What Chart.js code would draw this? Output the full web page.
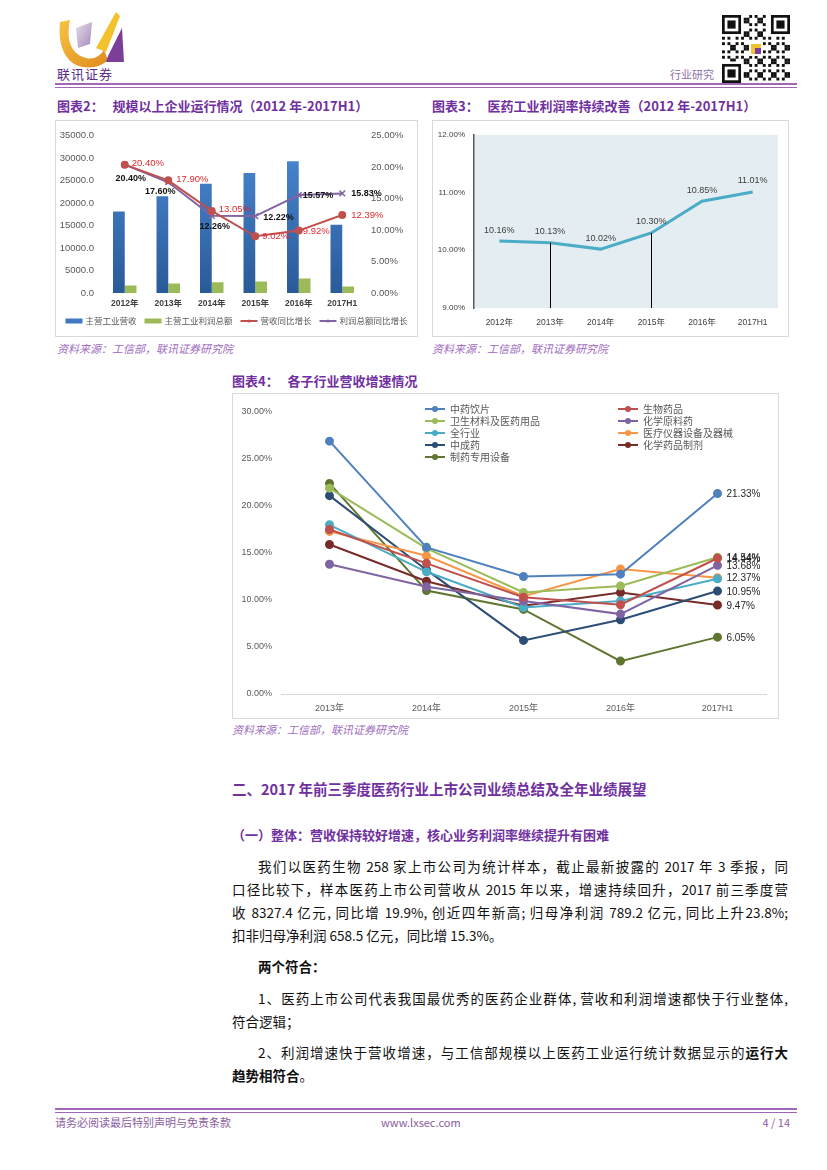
<!DOCTYPE html>
<html>
<head>
<meta charset="utf-8">
<script src="https://cdn.jsdelivr.net/npm/chart.js@4.4.1/dist/chart.umd.min.js"></script>
<style>
  html,body{margin:0;padding:0;background:#fff;}
  body{width:827px;height:1170px;position:relative;overflow:hidden;font-family:"Noto Sans CJK SC","Liberation Sans",sans-serif;}
  .abs{position:absolute;white-space:nowrap;}
  .title{color:#7030A0;font-weight:bold;font-size:13px;line-height:16px;}
  .src{color:#A06CC0;font-style:italic;font-size:11px;line-height:14px;}
  .box{position:absolute;border:1px solid #D9D9D9;box-sizing:border-box;}
  .box canvas{position:absolute;left:0;top:0;}
  .para{position:absolute;font-size:13.5px;line-height:20px;color:#111;white-space:nowrap;}
  .just{text-align:justify;text-align-last:justify;white-space:normal;height:20px;overflow:visible;}
  .h1{color:#7030A0;font-weight:bold;font-size:14.5px;line-height:20px;}
  .h2{color:#7030A0;font-weight:bold;font-size:13px;line-height:18px;}
  .foot{color:#8B5DA0;font-size:11px;line-height:14px;font-family:"Liberation Sans Narrow","Noto Sans CJK SC",sans-serif;}
</style>
</head>
<body>
<script>
// ---------------- DATA ----------------
const c2Years = ['2012年','2013年','2014年','2015年','2016年','2017H1'];
const c2Revenue = [18160, 21500, 24330, 26720, 29340, 15180];
const c2Profit = [1680, 2110, 2400, 2550, 3200, 1460];
const c2RevGrowth = [20.40, 17.90, 13.05, 9.02, 9.92, 12.39];
const c2ProfitGrowth = [20.40, 17.60, 12.26, 12.22, 15.57, 15.83];
const c2SeriesNames = ['主营工业营收','主营工业利润总额','营收同比增长','利润总额同比增长'];

const c3Years = ['2012年','2013年','2014年','2015年','2016年','2017H1'];
const c3Margin = [10.16, 10.13, 10.02, 10.30, 10.85, 11.01];

const c4Periods = ['2013年','2014年','2015年','2016年','2017H1'];
const c4Names = ['中药饮片','生物药品','卫生材料及医药用品','化学原料药','全行业','医疗仪器设备及器械','中成药','化学药品制剂','制药专用设备'];
const c4TcmPieces   = [26.9, 15.6, 12.5, 12.75, 21.33];
const c4Bio         = [17.5, 13.9, 10.3, 9.5, 14.44];
const c4Sanitary    = [21.9, 15.5, 10.8, 11.5, 14.54];
const c4Api         = [13.8, 11.4, 9.9, 8.5, 13.68];
const c4All         = [18.0, 13.0, 9.2, 9.9, 12.25];
const c4Devices     = [17.3, 14.7, 10.4, 13.3, 12.37];
const c4TcmPatent   = [21.1, 13.2, 5.7, 7.9, 10.95];
const c4Formulation = [15.9, 12.0, 9.4, 10.8, 9.47];
const c4Equipment   = [22.4, 11.0, 9.0, 3.5, 6.05];
</script>

<!-- Header -->
<svg class="abs" style="left:56px;top:8px" width="72" height="62" viewBox="0 0 72 62">
  <defs>
    <linearGradient id="gy" x1="0" y1="0" x2="1" y2="1">
      <stop offset="0" stop-color="#F6C343"/><stop offset="1" stop-color="#E08A1E"/>
    </linearGradient>
    <linearGradient id="gp" x1="0" y1="0" x2="1" y2="1">
      <stop offset="0" stop-color="#E6DCEB"/><stop offset="1" stop-color="#A58BB8"/>
    </linearGradient>
  </defs>
  <path d="M4 14 L14 12 C10 30 14 46 30 50 C38 52 44 48 48 42 L52 52 C44 60 30 62 18 56 C6 48 2 32 4 14 Z" fill="url(#gy)"/>
  <path d="M20 20 L36 14 L34 36 L22 40 Z" fill="url(#gp)"/>
  <path d="M40 40 L60 4 L64 8 L50 44 Z" fill="#F3C12C"/>
  <path d="M52 48 L66 20 L68 54 L50 54 Z" fill="#7B3F99"/>
</svg>
<div class="abs" style="left:57px;top:66px;font-size:13px;line-height:16px;color:#5A2D86;letter-spacing:1px;">联讯证券</div>
<div class="abs" style="left:670px;top:67px;font-size:11px;line-height:14px;color:#8E6FA6;">行业研究</div>
<svg id="qr" class="abs" style="left:722px;top:15px" width="68" height="68"></svg>
<div class="abs" style="left:55px;top:83px;width:742px;height:2px;background:#A266B8;"></div>
<div class="abs" style="left:55px;top:87px;width:742px;height:1px;background:#A266B8;"></div>

<!-- Chart 2 -->
<div class="abs title" style="left:57px;top:98px;">图表2：&nbsp;&nbsp;&nbsp;规模以上企业运行情况（2012 年-2017H1）</div>
<div class="box" style="left:55px;top:120px;width:363px;height:217px;"><canvas id="c2" width="361" height="215" style="width:361px;height:215px"></canvas></div>
<div class="abs src" style="left:57px;top:341px;">资料来源：工信部，联讯证券研究院</div>

<!-- Chart 3 -->
<div class="abs title" style="left:432px;top:98px;">图表3：&nbsp;&nbsp;&nbsp;医药工业利润率持续改善（2012 年-2017H1）</div>
<div class="box" style="left:432px;top:120px;width:357px;height:217px;"><canvas id="c3" width="355" height="215" style="width:355px;height:215px"></canvas></div>
<div class="abs src" style="left:432px;top:341px;">资料来源：工信部，联讯证券研究院</div>

<!-- Chart 4 -->
<div class="abs title" style="left:232px;top:373px;">图表4：&nbsp;&nbsp;&nbsp;各子行业营收增速情况</div>
<div class="box" style="left:232px;top:393px;width:547px;height:326px;"><canvas id="c4" width="545" height="324" style="width:545px;height:324px"></canvas></div>
<div class="abs src" style="left:232px;top:722px;">资料来源：工信部，联讯证券研究院</div>

<!-- Text -->
<div class="abs h1" style="left:232px;top:779px;">二、2017 年前三季度医药行业上市公司业绩总结及全年业绩展望</div>
<div class="abs h2" style="left:232px;top:826px;">（一）整体：营收保持较好增速，核心业务利润率继续提升有困难</div>
<div class="para just" style="left:258px;top:856px;width:530px;">我们以医药生物 258 家上市公司为统计样本，截止最新披露的 2017 年 3 季报，同</div>
<div class="para just" style="left:232px;top:879px;width:556px;">口径比较下，样本医药上市公司营收从 2015 年以来，增速持续回升，2017 前三季度营</div>
<div class="para just" style="left:232px;top:902px;width:556px;">收 8327.4 亿元, 同比增 19.9%, 创近四年新高; 归母净利润 789.2 亿元, 同比上升23.8%;</div>
<div class="para" style="left:232px;top:925px;">扣非归母净利润 658.5 亿元，同比增 15.3%。</div>
<div class="para" style="left:258px;top:956px;font-weight:bold;">两个符合：</div>
<div class="para just" style="left:258px;top:988px;width:530px;">1、医药上市公司代表我国最优秀的医药企业群体, 营收和利润增速都快于行业整体,</div>
<div class="para" style="left:232px;top:1011px;">符合逻辑；</div>
<div class="para just" style="left:258px;top:1042px;width:530px;">2、利润增速快于营收增速，与工信部规模以上医药工业运行统计数据显示的<b>运行大</b></div>
<div class="para" style="left:232px;top:1065px;"><b>趋势相符合</b>。</div>

<!-- Footer -->
<div class="abs" style="left:55px;top:1108px;width:742px;height:2px;background:#A266B8;"></div>
<div class="abs" style="left:55px;top:1112px;width:742px;height:1px;background:#A266B8;"></div>
<div class="abs foot" style="left:55px;top:1115px;">请务必阅读最后特别声明与免责条款</div>
<div class="abs foot" style="left:381px;top:1115px;">www.lxsec.com</div>
<div class="abs foot" style="right:37px;top:1115px;">4 / 14</div>

<script>
// QR-like decoration
(function(){
  const svg=document.getElementById('qr');const n=25,s=68/n;let h='';
  function finder(x,y){h+=`<rect x="${x*s}" y="${y*s}" width="${7*s}" height="${7*s}" fill="#111"/><rect x="${(x+1)*s}" y="${(y+1)*s}" width="${5*s}" height="${5*s}" fill="#fff"/><rect x="${(x+2)*s}" y="${(y+2)*s}" width="${3*s}" height="${3*s}" fill="#111"/>`;}
  for(let i=0;i<n;i++)for(let j=0;j<n;j++){
    const inF=(i<8&&j<8)||(i<8&&j>=n-8)||(i>=n-8&&j<8);
    if(inF)continue;
    if(((i*7+j*13+i*j*3)%5)<2) h+=`<rect x="${j*s}" y="${i*s}" width="${s+0.2}" height="${s+0.2}" fill="#111"/>`;
  }
  finder(0,0);finder(n-7,0);finder(0,n-7);
  h+=`<rect x="27" y="27" width="14" height="14" fill="#fff"/><rect x="29" y="29" width="10" height="10" fill="#F2C230"/><rect x="33" y="33" width="6" height="6" fill="#7B3F99"/>`;
  svg.innerHTML=h;
})();

Chart.defaults.font.family = "'Liberation Sans','Noto Sans CJK SC',sans-serif";
Chart.defaults.animation = false;
Chart.defaults.plugins.legend.display = false;
Chart.defaults.plugins.tooltip.enabled = false;
const noGrid = {display:false, drawTicks:false};

// ---------- Chart 2 ----------
const c2Colors = {rev:'#3F79C4', profit:'#9BBB59', revG:'#C0504D', profG:'#8064A2'};
const c2Labels = {
  id:'c2Labels',
  afterDatasetsDraw(chart){
    const ctx=chart.ctx; ctx.save();
    const red=chart.getDatasetMeta(0).data, pur=chart.getDatasetMeta(1).data;
    const redOff=[[7,-1],[8,-1],[7,-2],[7,0],[4,1],[9,0]];
    const purOff=[[6,14,'center'],[-8,9,'center'],[3,11,'center'],[8,1,'left'],[4,0,'left'],[9,0,'left']];
    ctx.textBaseline='middle';
    ctx.font='9.5px "Liberation Sans"'; ctx.fillStyle='#E0282E'; ctx.textAlign='left';
    red.forEach((p,i)=>ctx.fillText(c2RevGrowth[i].toFixed(2)+'%',p.x+redOff[i][0],p.y+redOff[i][1]));
    ctx.font='bold 9px "Liberation Sans"'; ctx.fillStyle='#111';
    pur.forEach((p,i)=>{ctx.textAlign=purOff[i][2];ctx.fillText(c2ProfitGrowth[i].toFixed(2)+'%',p.x+purOff[i][0],p.y+purOff[i][1]);});
    // legend
    const items=[{t:c2SeriesNames[0],type:'bar',c:c2Colors.rev},{t:c2SeriesNames[1],type:'bar',c:c2Colors.profit},{t:c2SeriesNames[2],type:'line',c:c2Colors.revG},{t:c2SeriesNames[3],type:'line',c:c2Colors.profG}];
    ctx.font='8.5px "Noto Sans CJK SC"'; ctx.textAlign='left';
    const sw=17,gap=3,sp=8; let total=0;
    items.forEach(it=>{it.w=ctx.measureText(it.t).width;total+=sw+gap+it.w;}); total+=sp*(items.length-1);
    let x=(chart.width-total)/2; const y=200;
    items.forEach(it=>{
      if(it.type==='bar'){ctx.fillStyle=it.c;ctx.fillRect(x,y-2.5,sw,5);}
      else{ctx.strokeStyle=it.c;ctx.lineWidth=2;ctx.beginPath();ctx.moveTo(x,y);ctx.lineTo(x+sw,y);ctx.stroke();ctx.fillStyle=it.c;ctx.beginPath();ctx.arc(x+sw/2,y,1.6,0,Math.PI*2);ctx.fill();}
      ctx.fillStyle='#595959';ctx.fillText(it.t,x+sw+gap,y);
      x+=sw+gap+it.w+sp;
    });
    ctx.restore();
  }
};
new Chart(document.getElementById('c2'),{
  type:'bar',
  data:{labels:c2Years,datasets:[
    {type:'line',label:c2SeriesNames[2],data:c2RevGrowth,yAxisID:'y1',borderColor:c2Colors.revG,backgroundColor:c2Colors.revG,borderWidth:2,pointRadius:3,pointBackgroundColor:c2Colors.revG,order:0},
    {type:'line',label:c2SeriesNames[3],data:c2ProfitGrowth,yAxisID:'y1',borderColor:c2Colors.profG,backgroundColor:c2Colors.profG,borderWidth:2,pointStyle:'crossRot',pointRadius:4,pointBorderWidth:1.5,order:1},
    {label:c2SeriesNames[0],data:c2Revenue,yAxisID:'y',order:2,categoryPercentage:0.54,barPercentage:1.0,
      backgroundColor:(ctx)=>{const ch=ctx.chart;const a=ch.chartArea;if(!a)return c2Colors.rev;const g=ch.ctx.createLinearGradient(0,a.top,0,a.bottom);g.addColorStop(0,'#4B8BD6');g.addColorStop(1,'#2A5A98');return g;}},
    {label:c2SeriesNames[1],data:c2Profit,yAxisID:'y',order:3,categoryPercentage:0.54,barPercentage:1.0,backgroundColor:c2Colors.profit}
  ]},
  options:{
    responsive:false,
    layout:{padding:{top:6,bottom:23,left:0,right:0}},
    scales:{
      x:{grid:noGrid,border:{display:false},ticks:{color:'#404040',font:{size:8.5,weight:'bold'},padding:6,maxRotation:0},afterFit:s=>{s.height=20;}},
      y:{position:'left',min:0,max:35000,grid:noGrid,border:{display:false},ticks:{stepSize:5000,color:'#595959',font:{size:9.5},padding:9,callback:v=>v.toFixed(1)},afterFit:s=>{s.width=47;}},
      y1:{position:'right',min:0,max:25,grid:noGrid,border:{display:false},ticks:{stepSize:5,color:'#595959',font:{size:9.5},padding:7,callback:v=>v.toFixed(2)+'%'},afterFit:s=>{s.width=53;}}
    }
  },
  plugins:[c2Labels]
});

// ---------- Chart 3 ----------
const c3Plugin = {
  id:'c3Plugin',
  beforeDraw(chart){const a=chart.chartArea,ctx=chart.ctx;ctx.save();ctx.fillStyle='#E4EDF1';ctx.fillRect(a.left,a.top,a.right-a.left,a.bottom-a.top);ctx.restore();},
  afterDatasetsDraw(chart){
    const ctx=chart.ctx,pts=chart.getDatasetMeta(0).data,a=chart.chartArea;ctx.save();
    ctx.strokeStyle='#000';ctx.lineWidth=1;
    [1,3].forEach(i=>{ctx.beginPath();ctx.moveTo(Math.round(pts[i].x)+0.5,pts[i].y);ctx.lineTo(Math.round(pts[i].x)+0.5,a.bottom);ctx.stroke();});
    ctx.font='9px "Liberation Sans"';ctx.fillStyle='#404040';ctx.textAlign='center';ctx.textBaseline='middle';
    pts.forEach((p,i)=>ctx.fillText(c3Margin[i].toFixed(2)+'%',p.x,p.y-11));
    ctx.restore();
  }
};
new Chart(document.getElementById('c3'),{
  type:'line',
  data:{labels:c3Years,datasets:[{data:c3Margin,borderColor:'#4BACC6',borderWidth:3,pointRadius:0,tension:0}]},
  options:{
    responsive:false,
    layout:{padding:{top:6,right:10,bottom:0,left:0}},
    scales:{
      x:{offset:true,grid:noGrid,border:{display:false},ticks:{color:'#404040',font:{size:8.5},padding:10,maxRotation:0},afterFit:s=>{s.height=28;}},
      y:{min:9,max:12,grid:noGrid,border:{display:true,color:'#595959',width:1.5},ticks:{stepSize:1,color:'#404040',font:{size:8},padding:9,callback:v=>v.toFixed(2)+'%'},afterFit:s=>{s.width=41;}}
    }
  },
  plugins:[c3Plugin]
});

// ---------- Chart 4 ----------
const c4Colors=['#4F81BD','#C0504D','#9BBB59','#8064A2','#4BACC6','#F79646','#2C4D75','#772C2A','#5F7530'];
const c4Series=[c4TcmPieces,c4Bio,c4Sanitary,c4Api,c4All,c4Devices,c4TcmPatent,c4Formulation,c4Equipment];
const c4Labeled=[true,true,true,true,false,true,true,true,true];
const c4Plugin={
  id:'c4Plugin',
  afterDatasetsDraw(chart){
    const ctx=chart.ctx;ctx.save();
    ctx.font='10px "Liberation Sans"';ctx.fillStyle='#262626';ctx.textAlign='left';ctx.textBaseline='middle';
    chart.data.datasets.forEach((ds,di)=>{
      if(!c4Labeled[di])return;
      const m=chart.getDatasetMeta(di);const p=m.data[m.data.length-1];
      ctx.fillText(ds.data[ds.data.length-1].toFixed(2)+'%',p.x+9,p.y+1);
    });
    // legend (two columns)
    ctx.font='10px "Noto Sans CJK SC"';
    chart.data.datasets.forEach((ds,di)=>{
      const col=di%2,row=Math.floor(di/2);
      const x0=col===0?192:385,y=15+row*12;
      ctx.strokeStyle=ds.borderColor;ctx.lineWidth=2;ctx.beginPath();ctx.moveTo(x0,y);ctx.lineTo(x0+20,y);ctx.stroke();
      ctx.fillStyle=ds.borderColor;ctx.beginPath();ctx.arc(x0+10,y,3,0,Math.PI*2);ctx.fill();
      ctx.fillStyle='#595959';ctx.fillText(ds.label,x0+25,y);
    });
    ctx.restore();
  }
};
new Chart(document.getElementById('c4'),{
  type:'line',
  data:{labels:c4Periods,datasets:c4Names.map((n,i)=>({label:n,data:c4Series[i],borderColor:c4Colors[i],backgroundColor:c4Colors[i],borderWidth:2,pointRadius:3.5,pointBackgroundColor:c4Colors[i],pointBorderColor:c4Colors[i],tension:0}))},
  options:{
    responsive:false,
    layout:{padding:{top:18,right:12,bottom:0,left:0}},
    scales:{
      x:{offset:true,grid:noGrid,border:{display:true,color:'#D9D9D9',width:1},ticks:{color:'#595959',font:{size:9},padding:9,maxRotation:0},afterFit:s=>{s.height=24;}},
      y:{min:0,max:30,grid:noGrid,border:{display:false},ticks:{stepSize:5,color:'#595959',font:{size:9},padding:9,callback:v=>v.toFixed(2)+'%'},afterFit:s=>{s.width=48;}}
    }
  },
  plugins:[c4Plugin]
});
</script>
</body>
</html>
